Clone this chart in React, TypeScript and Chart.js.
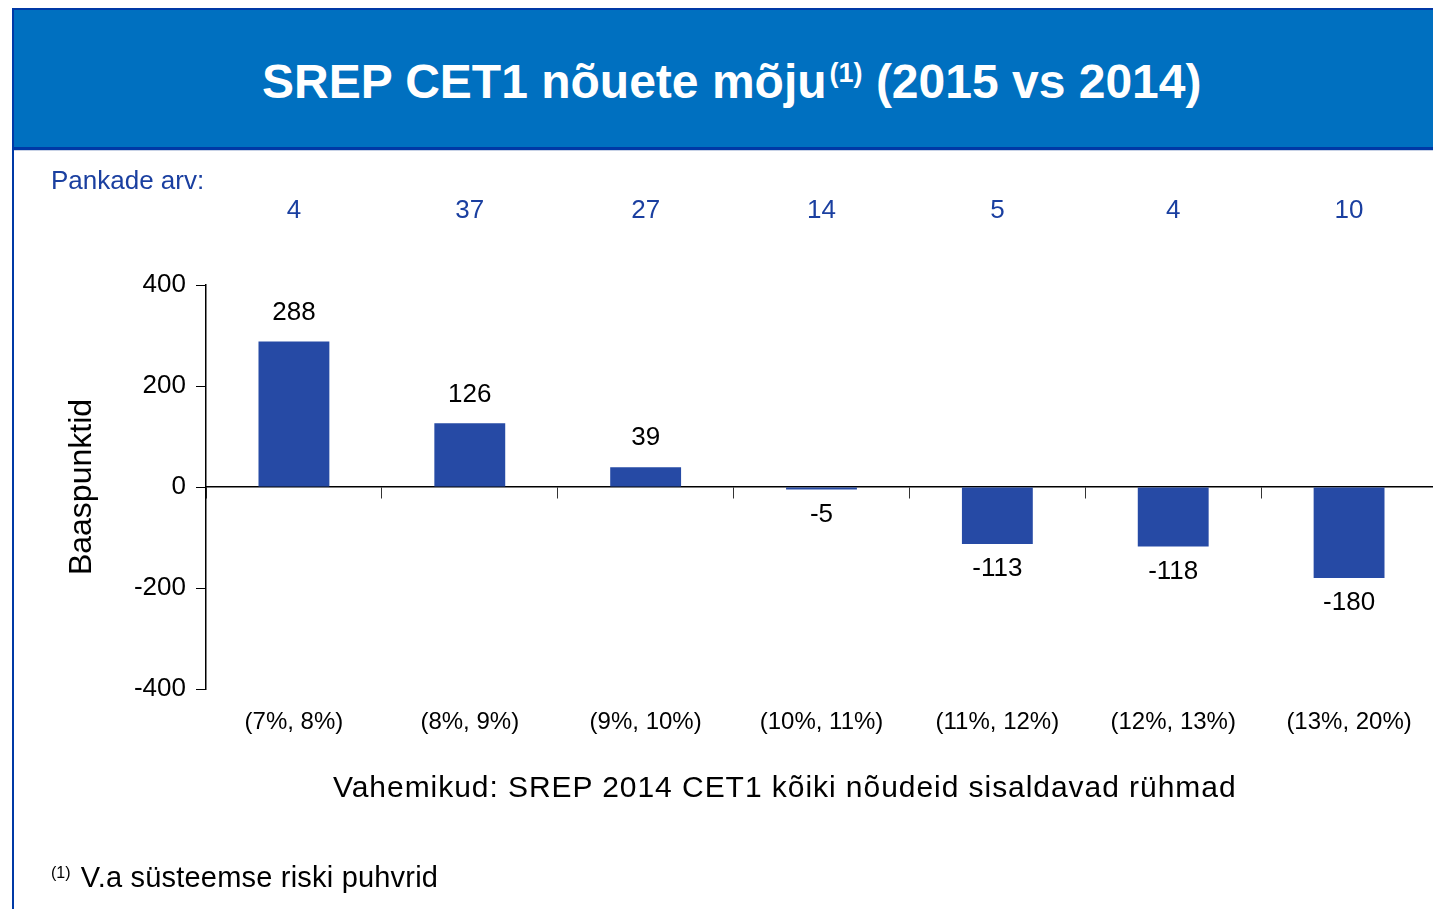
import React, { useEffect, useRef } from 'react';
import { Chart, registerables } from 'chart.js';

Chart.register(...registerables);

const categories = ['(7%, 8%)', '(8%, 9%)', '(9%, 10%)', '(10%, 11%)', '(11%, 12%)', '(12%, 13%)', '(13%, 20%)'];
const impactBp = [288, 126, 39, -5, -113, -118, -180];
const bankCounts = ['4', '37', '27', '14', '5', '4', '10'];
const yTicks = [-400, -200, 0, 200, 400];

const FONT = "'Liberation Sans', Arial, Helvetica, sans-serif";
const BAR = '#264AA5';
const DARK_BLUE = '#0039A6';
const BANNER = '#0070C0';
const TEXT_BLUE = '#1A3FA0';

const barValueLabels = {
  id: 'barValueLabels',
  afterDatasetsDraw(chart: any) {
    const ctx = chart.ctx;
    const meta = chart.getDatasetMeta(0);
    ctx.save();
    ctx.font = `26px ${FONT}`;
    ctx.fillStyle = '#000';
    ctx.textAlign = 'center';
    ctx.textBaseline = 'middle';
    meta.data.forEach((el: any, i: number) => {
      const v = impactBp[i];
      const y = v >= 0 ? el.y - 29 : el.y + 25;
      ctx.fillText(String(v), el.x, y);
    });
    ctx.restore();
  },
};

export default function App() {
  const canvasRef = useRef<HTMLCanvasElement | null>(null);

  useEffect(() => {
    if (!canvasRef.current) return;
    const chart = new Chart(canvasRef.current, {
      type: 'bar',
      data: {
        labels: categories,
        datasets: [
          {
            data: impactBp,
            backgroundColor: BAR,
            borderWidth: 0,
            barPercentage: 0.403,
            categoryPercentage: 1,
            xAxisID: 'x',
            yAxisID: 'y',
          },
        ],
      },
      options: {
        responsive: false,
        animation: false,
        devicePixelRatio: 1,
        layout: { padding: { left: 0, right: 3, top: 0, bottom: 0 } },
        plugins: {
          legend: { display: false },
          tooltip: { enabled: false },
          title: { display: false },
        },
        scales: {
          x: {
            type: 'category',
            position: 'bottom',
            offset: true,
            grid: { display: false, drawTicks: false },
            border: { display: false },
            ticks: {
              font: { family: FONT, size: 24 },
              color: '#000',
              padding: 19,
              maxRotation: 0,
              autoSkip: false,
            },
            afterFit: (s: any) => {
              s.height = 220;
            },
          },
          xTop: {
            type: 'category',
            labels: bankCounts,
            position: 'top',
            offset: true,
            grid: { display: false, drawTicks: false },
            border: { display: false },
            ticks: {
              font: { family: FONT, size: 26 },
              color: TEXT_BLUE,
              padding: 59,
              maxRotation: 0,
              autoSkip: false,
            },
            afterFit: (s: any) => {
              s.height = 285;
            },
          },
          xZero: {
            type: 'category',
            labels: categories,
            position: { y: 0 },
            offset: true,
            z: 1,
            grid: {
              display: true,
              offset: true,
              drawOnChartArea: false,
              drawTicks: true,
              tickLength: 11,
              color: '#333',
              tickColor: '#333',
              lineWidth: 1,
            },
            border: { display: true, color: '#000', width: 1.5 },
            ticks: { display: false },
            afterFit: (s: any) => {
              s.height = 0;
            },
          },
          y: {
            type: 'linear',
            position: 'left',
            min: -400,
            max: 400,
            afterBuildTicks: (s: any) => {
              s.ticks = yTicks.map((v) => ({ value: v }));
            },
            grid: {
              display: true,
              drawOnChartArea: false,
              drawTicks: true,
              tickLength: 10,
              color: '#000',
              tickColor: '#000',
            },
            border: { display: true, color: '#000', width: 1.5 },
            ticks: {
              font: { family: FONT, size: 26 },
              color: '#000',
              padding: 10,
            },
            title: {
              display: true,
              text: 'Baaspunktid',
              font: { family: FONT, size: 32 },
              color: '#000',
              padding: { top: 63, bottom: 0 },
            },
            afterFit: (s: any) => {
              s.width = 206;
            },
          },
        },
      },
      plugins: [barValueLabels],
    } as any);
    return () => chart.destroy();
  }, []);

  const abs = (o: React.CSSProperties): React.CSSProperties => ({ position: 'absolute', whiteSpace: 'nowrap', ...o });

  return (
    <div
      style={{
        position: 'fixed',
        left: 0,
        top: 0,
        width: 1433,
        height: 909,
        overflow: 'hidden',
        background: '#fff',
        fontFamily: FONT,
      }}
    >
      <canvas ref={canvasRef} width={1440} height={909} style={{ position: 'absolute', left: 0, top: 0, width: 1440, height: 909 }} />
      <div
        style={abs({
          left: 12,
          top: 8,
          width: 1421,
          height: 142,
          boxSizing: 'border-box',
          background: BANNER,
          borderTop: `2px solid ${DARK_BLUE}`,
          borderBottom: `3px solid ${DARK_BLUE}`,
        })}
      />
      <div style={abs({ left: 14, top: 150, width: 1419, height: 1, background: '#c8d2e6' })} />
      <div style={abs({ left: 12, top: 8, width: 2, height: 901, background: DARK_BLUE })} />
      <div style={abs({ left: 262, top: 58, fontSize: 48, lineHeight: '48px', fontWeight: 'bold', color: '#fff' })}>
        SREP CET1 nõuete mõju
        <span style={{ fontSize: 27, lineHeight: 1, position: 'relative', top: -16, marginLeft: 3 }}>(1)</span> (2015 vs 2014)
      </div>
      <div style={abs({ left: 51, top: 167, fontSize: 26, lineHeight: '26px', color: TEXT_BLUE })}>Pankade arv:</div>
      <div style={abs({ left: 333, top: 772, fontSize: 30, lineHeight: '30px', letterSpacing: '0.95px', color: '#000' })}>
        Vahemikud: SREP 2014 CET1 kõiki nõudeid sisaldavad rühmad
      </div>
      <div style={abs({ left: 51, top: 863, fontSize: 29, lineHeight: '29px', color: '#000' })}>
        <span style={{ fontSize: 16, lineHeight: 1, position: 'relative', top: -9 }}>(1)</span>
        <span style={{ letterSpacing: '0.2px', marginLeft: 2 }}> V.a süsteemse riski puhvrid</span>
      </div>
    </div>
  );
}
